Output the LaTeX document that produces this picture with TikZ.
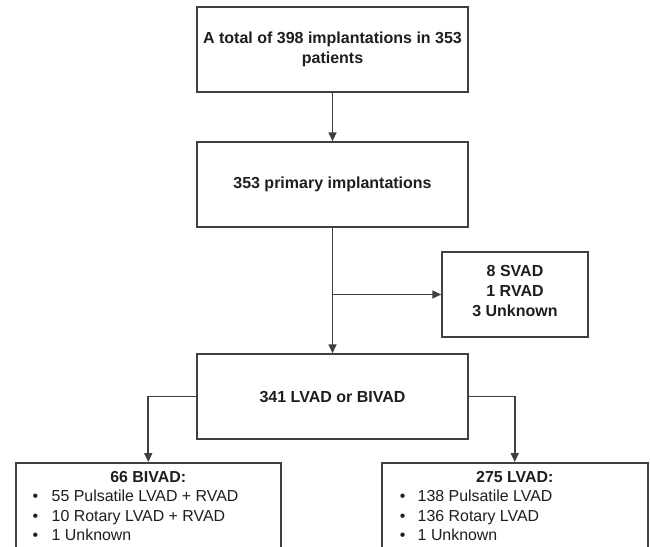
\documentclass[tikz,border=0pt]{standalone}
\usepackage{fontspec}
\setmainfont{Liberation Sans}
\usetikzlibrary{arrows.meta}
\definecolor{linec}{HTML}{404040}
\definecolor{txt}{HTML}{1E1E1E}
\begin{document}
\begin{tikzpicture}[x=1pt,y=-1pt,
  box/.style={draw=linec, line width=1.5pt, fill=white, text=txt,
    font=\fontsize{16}{20}\selectfont\bfseries, align=center, inner sep=0pt},
  listbox/.style={draw=linec, line width=1.5pt, fill=white, text=txt,
    inner sep=0pt, anchor=north west},
  conn/.style={draw=linec, line width=1.6pt, -{Triangle[length=9pt,width=8pt]}}]
\useasboundingbox (0,0) rectangle (650,546);
\clip (0,0) rectangle (650,546);
\fill[white] (0,0) rectangle (650,546);

\node[box, minimum width=271pt, minimum height=85pt] (total) at (332.5,49.5)
  {A total of 398 implantations in 353\\patients};
\node[box, minimum width=271pt, minimum height=85pt] (primary) at (332.5,184.5)
  {353 primary implantations};
\node[box, minimum width=271pt, minimum height=85pt] (lvadbivad) at (332.5,396.5)
  {341 LVAD or BIVAD};
\node[box, minimum width=146pt, minimum height=85pt] (other) at (515,294.5)
  {8 SVAD\\1 RVAD\\3 Unknown\rule[-8pt]{0pt}{8pt}};

\node[listbox] (bivad) at (15,462) {\parbox[c][110pt][t]{265pt}{%
  \fontsize{15.9}{19.3}\selectfont\vspace*{8.6pt}%
  \noindent\makebox[265pt]{\bfseries 66 BIVAD:}\\
  \makebox[36pt][l]{\hspace*{17pt}\textbullet}55 Pulsatile LVAD + RVAD\\
  \makebox[36pt][l]{\hspace*{17pt}\textbullet}10 Rotary LVAD + RVAD\\
  \makebox[36pt][l]{\hspace*{17pt}\textbullet}1 Unknown}};
\node[listbox] (lvad) at (381,462) {\parbox[c][110pt][t]{266pt}{%
  \fontsize{15.9}{19.3}\selectfont\vspace*{8.6pt}%
  \noindent\makebox[266pt]{\bfseries 275 LVAD:}\\
  \makebox[36pt][l]{\hspace*{18pt}\textbullet}138 Pulsatile LVAD\\
  \makebox[36pt][l]{\hspace*{18pt}\textbullet}136 Rotary LVAD\\
  \makebox[36pt][l]{\hspace*{18pt}\textbullet}1 Unknown}};

\coordinate (split) at (332.5,294.5);
\draw[conn] (total.south) -- (primary.north);
\draw[conn] (primary.south) -- (lvadbivad.north);
\draw[conn] (split) -- (other.west);
\draw[conn] (lvadbivad.west) -| (bivad.north);
\draw[conn] (lvadbivad.east) -| (lvad.north);
\end{tikzpicture}
\end{document}
